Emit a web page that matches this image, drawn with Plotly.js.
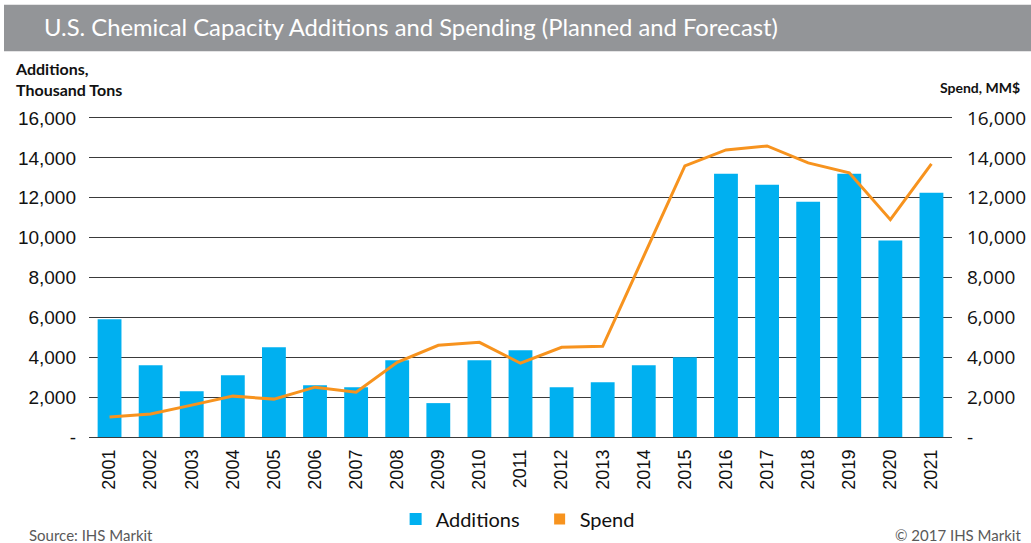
<!DOCTYPE html>
<html>
<head>
<meta charset="utf-8">
<script src="https://cdn.plot.ly/plotly-3.0.1.min.js"></script>
<style>html,body{margin:0;padding:0;background:#fff;}#chart{width:1031px;height:543px;}</style>
</head>
<body>
<div id="chart"></div>
<script>
var years = ["2001","2002","2003","2004","2005","2006","2007","2008","2009","2010","2011","2012","2013","2014","2015","2016","2017","2018","2019","2020","2021"];
var additions = [5900,3600,2300,3100,4500,2600,2500,3850,1700,3850,4350,2500,2750,3600,4000,13200,12650,11800,13200,9850,12250];
var spend = [1000,1150,1600,2050,1900,2500,2250,3750,4600,4750,3700,4500,4550,9100,13600,14400,14600,13750,13250,10900,13700];
var tickVals = [0,2000,4000,6000,8000,10000,12000,14000,16000];
var tickText = ["-","2,000","4,000","6,000","8,000","10,000","12,000","14,000","16,000"];

var W = 1031, H = 543, L = 89, R = 79, T = 115.5, B = 103.5;
var pw = W - L - R, ph = H - T - B;
function px(x){ return (x - L) / pw; }
function py(y){ return (H - B - y) / ph; }

var blue = "#00B0F0", orange = "#F7931E";
var traces = [
  {type:"bar", name:"Additions", x:years, y:additions, marker:{color:blue}, yaxis:"y", hoverinfo:"x+y"},
  {type:"scatter", mode:"lines", name:"Spend", x:years, y:spend, line:{color:orange, width:3}, yaxis:"y2", showlegend:false},
  {type:"scatter", mode:"markers", name:"Spend", x:[null], y:[null], marker:{color:orange, symbol:"square", size:11}, yaxis:"y2", showlegend:true}
];

var axisFont = {family:"Liberation Sans, Arial, sans-serif", size:19, color:"#111"};
var yr = [-100,16100];
var layout = {
  width:W, height:H,
  margin:{l:L, r:R, t:T, b:B, pad:0},
  paper_bgcolor:"#fff", plot_bgcolor:"#fff",
  bargap:0.42,
  showlegend:true,
  title:{text:"U.S. Chemical Capacity Additions and Spending (Planned and Forecast)", xref:"container", yref:"container", x:44/W, xanchor:"left", y:1-28/H, yanchor:"middle", font:{family:"Lato, sans-serif", size:23.8, color:"#fff"}},
  xaxis:{type:"category", tickangle:-90, tickfont:{family:"Liberation Sans, Arial, sans-serif", size:18, color:"#111"}, showgrid:false, zeroline:false, showline:false, ticks:"", ticklabelstandoff:6},
  yaxis:{range:yr, tickvals:tickVals, ticktext:tickText, tickfont:axisFont, showgrid:true, gridcolor:"#3a3a3a", gridwidth:1, zeroline:false, showline:false, ticks:"", ticklabelstandoff:12, fixedrange:true},
  yaxis2:{range:yr, overlaying:"y", side:"right", tickvals:tickVals, ticktext:tickText, tickfont:{family:"Open Sans, sans-serif", size:19, color:"#111"}, showgrid:false, zeroline:false, showline:false, ticks:"", ticklabelstandoff:14},
  legend:{orientation:"h", xref:"container", yref:"container", x:0.5234, xanchor:"center", y:1-519/H, yanchor:"middle", font:{family:"Lato, sans-serif", size:20, color:"#111"}, itemwidth:30, entrywidth:99, tracegroupgap:0},
  shapes:[
    {type:"rect", xref:"paper", yref:"paper", x0:px(4), x1:px(W+5), y0:py(50.5), y1:py(4), fillcolor:"#939598", line:{width:0}, layer:"below"}
  ],
  annotations:[
    {text:"<b>Additions,</b><br><b>Thousand Tons</b>", xref:"paper", yref:"paper", x:px(13), xanchor:"left", y:py(78), yanchor:"middle", align:"left", showarrow:false, font:{family:"Lato, sans-serif", size:16, color:"#111"}},
    {text:"<b>Spend, MM$</b>", xref:"paper", yref:"paper", x:px(1022), xanchor:"right", y:py(87), yanchor:"middle", showarrow:false, font:{family:"Lato, sans-serif", size:14, color:"#111"}},
    {text:"Source: IHS Markit", xref:"paper", yref:"paper", x:px(27), xanchor:"left", y:py(536), yanchor:"middle", showarrow:false, font:{family:"Lato, sans-serif", size:15, color:"#595959"}},
    {text:"© 2017 IHS Markit", xref:"paper", yref:"paper", x:px(1023), xanchor:"right", y:py(536), yanchor:"middle", showarrow:false, font:{family:"Lato, sans-serif", size:15, color:"#595959"}}
  ]
};
Plotly.newPlot("chart", traces, layout, {displayModeBar:false, staticPlot:true});
</script>
</body>
</html>
